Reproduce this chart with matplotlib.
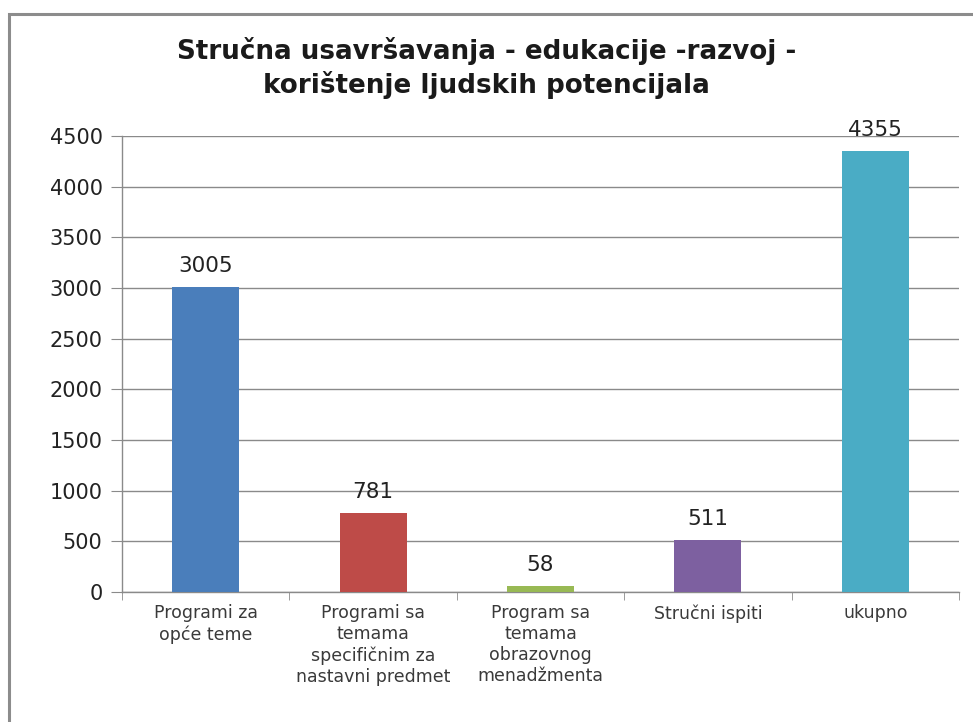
import matplotlib.pyplot as plt
from matplotlib.patches import Rectangle

categories = ["Programi za\nopće teme",
              "Programi sa\ntemama\nspecifičnim za\nnastavni predmet",
              "Program sa\ntemama\nobrazovnog\nmenadžmenta",
              "Stručni ispiti",
              "ukupno"]
values = [3005, 781, 58, 511, 4355]
colors = ["#4A7EBB", "#BE4B48", "#98B954", "#7D60A0", "#4AACC5"]
yticks = [0, 500, 1000, 1500, 2000, 2500, 3000, 3500, 4000, 4500]
title = "Stručna usavršavanja - edukacije -razvoj -\nkorištenje ljudskih potencijala"

fig = plt.figure(figsize=(9.73, 7.22), dpi=100)

# outer chart frame
fig.patches.append(Rectangle((9 / 973, -0.05), 1.1, 1 - 14 / 722 + 0.05,
                             transform=fig.transFigure, fill=False,
                             edgecolor="#8c8c8c", linewidth=2.2))

ax = fig.add_axes([122 / 973, 1 - 592 / 722, (959 - 122) / 973, (592 - 136) / 722])

x = range(len(values))
bars = ax.bar(x, values, width=0.4, color=colors, zorder=3)

for b, v in zip(bars, values):
    ax.text(b.get_x() + b.get_width() / 2, v + 110, str(v),
            ha="center", va="bottom", fontsize=15.5, family="DejaVu Sans",
            color="#222222")

ax.set_xlim(-0.5, len(values) - 0.5)
ax.set_ylim(0, 4500)
ax.set_yticks(yticks)
ax.set_yticklabels([str(t) for t in yticks], fontsize=15, family="DejaVu Sans",
                   color="#222222")
ax.yaxis.grid(True, color="#8a8a8a", linewidth=1.0, zorder=0)
ax.set_axisbelow(True)

ax.set_xticks([i + 0.5 for i in range(-1, len(values))], minor=True)
ax.set_xticks(list(x))
ax.set_xticklabels(categories, fontsize=12.5, family="DejaVu Sans",
                   color="#3a3a3a", linespacing=1.2, va="top")
ax.tick_params(axis="x", which="major", length=0, pad=9)
ax.tick_params(axis="x", which="minor", length=6, color="#8a8a8a")
ax.tick_params(axis="y", length=8, color="#8a8a8a", pad=6)

for s in ["top", "right"]:
    ax.spines[s].set_visible(False)
for s in ["left", "bottom"]:
    ax.spines[s].set_color("#8a8a8a")
    ax.spines[s].set_linewidth(1.0)

fig.text(0.5, 1 - 68 / 722, title, ha="center", va="center", fontsize=18.8,
         fontweight="bold", family="DejaVu Sans", color="#1a1a1a",
         linespacing=1.3)

fig.savefig("out.png", dpi=100)
